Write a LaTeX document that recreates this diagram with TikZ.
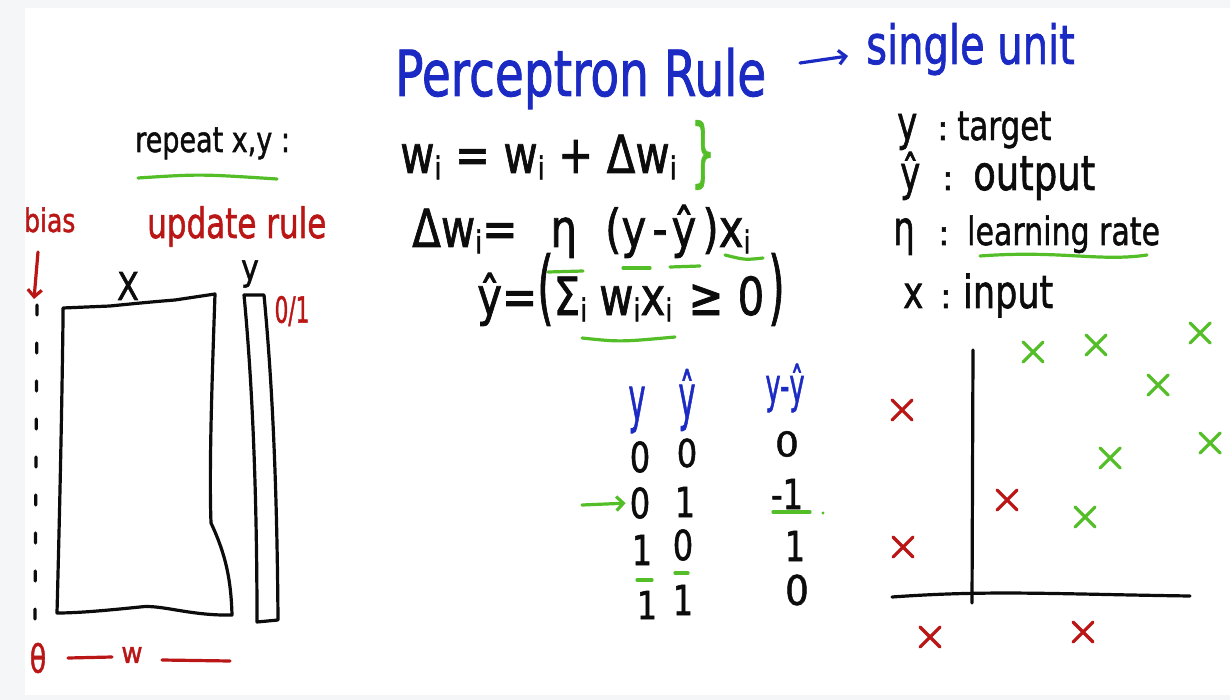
\documentclass[tikz,border=0pt]{standalone}
\usepackage{fontspec}
\setmainfont{DejaVu Sans}[FakeBold=1.5]
\usetikzlibrary{arrows.meta,shapes.misc}
\definecolor{inkblue}{RGB}{28,42,196}
\definecolor{inkred}{RGB}{186,22,22}
\definecolor{inkgreen}{RGB}{84,190,40}
\definecolor{inkblack}{RGB}{12,12,12}
\definecolor{framegray}{RGB}{244,246,248}
\newcommand{\hw}[3]{\scalebox{#1}[#2]{#3}}
\newcommand{\lo}[1]{\raisebox{-0.22ex}{\scalebox{0.6}{#1}}}
\begin{document}
\begin{tikzpicture}[x=1pt,y=-1pt]
\tikzset{
  ink/.style={line width=3.2pt, line cap=round, line join=round, draw=inkblack},
  txt/.style={inner sep=0pt, anchor=base west, text=inkblack},
  ctr/.style={inner sep=0pt, text=inkblack},
  fs/.style={font=\fontsize{#1}{#1}\selectfont},
  xmark/.style={cross out, draw, minimum size=17pt, inner sep=0pt, line width=3.2pt, line cap=round},
  redx/.style={xmark, draw=inkred},
  greenx/.style={xmark, draw=inkgreen},
  barb/.style={-{Straight Barb[length=7pt,width=14pt]}}
}
\fill[framegray] (0,0) rectangle (1230,700);
\fill[white] (25,8) rectangle (1230,695);
\useasboundingbox (0,0) rectangle (1230,700);

% title
\node[txt, text=inkblue, fs=47] (title) at (395,96) {\hw{1}{1.35}{Perceptron Rule}};
\node[txt, text=inkblue, fs=40] (unit) at (866,64) {\hw{1}{1.35}{single unit}};
\coordinate (ta1) at (800,63);
\coordinate (ta2) at (848,56);
\draw[ink, draw=inkblue, barb] (ta1) -- (ta2);

% left part
\node[txt, fs=27] (repeat) at (135,152) {\hw{1}{1.3}{repeat x,y :}};
\draw[ink, draw=inkgreen] (138,178) .. controls (200,174) .. (277,179);
\node[txt, text=inkred, fs=25] (bias) at (24,232) {\hw{1}{1.3}{bias}};
\node[txt, text=inkred, fs=31] (update) at (147,238) {\hw{1}{1.35}{update rule}};
\coordinate (ba1) at (38,252);
\coordinate (ba2) at (34,299);
\draw[ink, draw=inkred, barb] (ba1) -- (ba2);
\draw[ink, dash pattern=on 10pt off 28pt] (37,305) -- (35,625);

% data matrix X
\draw[ink] (63,308) -- (110,306) .. controls (130,304) and (150,302) .. (175,300) -- (215,294)
  .. controls (212,380) and (209,470) .. (211,523) .. controls (226,555) and (231,580) .. (232,615)
  .. controls (190,616) and (160,604) .. (140,607) .. controls (110,610) and (80,613) .. (57,613)
  .. controls (60,500) and (62,400) .. (63,320) -- cycle;
\node[ctr, fs=32] (xlab) at (128,286) {\hw{1}{1.2}{X}};
% y column
\draw[ink] (244,295) -- (264,295) .. controls (272,380) and (277,480) .. (278,620) -- (257,622)
  .. controls (257,520) and (254,400) .. (244,295) -- cycle;
\node[ctr, fs=30] (ylab) at (250,274) {\hw{1}{1.2}{y}};
\node[ctr, text=inkred, fs=24] (bin) at (292,311) {\hw{0.9}{1.5}{0/1}};

% bottom labels
\node[ctr, text=inkred, fs=30] (theta) at (38,658) {\hw{0.9}{1.3}{θ}};
\node[ctr, text=inkred, fs=26] (wlab) at (132,655) {\hw{1}{1.1}{w}};
\coordinate (wd1) at (68,658);
\coordinate (wd2) at (112,657);
\coordinate (wd3) at (162,660);
\coordinate (wd4) at (230,661);
\draw[ink, draw=inkred] (wd1) -- (wd2);
\draw[ink, draw=inkred] (wd3) -- (wd4);

% equations
\node[txt, fs=42] (eq1) at (400,173) {\hw{1}{1.25}{w\lo{i} = w\lo{i} + Δw\lo{i}}};
\node[ctr, text=inkgreen, fs=50] (brace) at (703,155) {\hw{0.75}{1.5}{\}}};
\node[txt, fs=42] (eq2) at (412,247) {\hw{1}{1.25}{Δw\lo{i}=\hspace{33pt}η\hspace{28pt}(y\hspace{6pt}-\hspace{4pt}ŷ\hspace{6pt})x\lo{i}}};
\draw[ink, draw=inkgreen] (548,272) -- (583,271);
\draw[ink, draw=inkgreen] (623,268) -- (650,268);
\draw[ink, draw=inkgreen] (670,267) -- (700,266);
\draw[ink, draw=inkgreen] (725,255) .. controls (745,260) .. (763,258);
\node[txt, fs=42] (eq3) at (477,315) {\hw{1}{1.25}{ŷ=\hw{1}{1.55}{(}Σ\lo{i}\hspace{12pt}w\lo{i}x\lo{i}\hspace{16pt}≥\hspace{14pt}0\hspace{4pt}\hw{1}{1.55}{)}}};
\draw[ink, draw=inkgreen] (582,338) .. controls (620,342) .. (675,337);

% table
\node[ctr, text=inkblue, fs=36] (hy) at (637,410) {\hw{0.8}{1.7}{y}};
\node[ctr, text=inkblue, fs=36] (hyh) at (687,400) {\hw{0.8}{1.7}{ŷ}};
\node[ctr, text=inkblue, fs=32] (hd) at (785,388) {\hw{0.8}{1.5}{y-ŷ}};
\node[ctr, fs=32] (r1c1) at (640,457) {\hw{1}{1.3}{0}};
\node[ctr, fs=32] (r1c2) at (687,453) {\hw{1}{1.2}{0}};
\node[ctr, fs=34] (r1c3) at (787,444) {\hw{1.1}{1}{0}};
\node[ctr, fs=32] (r2c1) at (640,503) {\hw{1}{1.3}{0}};
\node[ctr, fs=32] (r2c2) at (685,502) {\hw{1}{1.3}{1}};
\node[ctr, fs=32] (r2c3) at (787,494) {\hw{1}{1.3}{-1}};
\node[ctr, fs=32] (r3c1) at (642,550) {\hw{1}{1.3}{1}};
\node[ctr, fs=32] (r3c2) at (683,545) {\hw{1}{1.3}{0}};
\node[ctr, fs=32] (r3c3) at (795,546) {\hw{1}{1.3}{1}};
\node[ctr, fs=32] (r4c1) at (647,605) {\hw{1}{1.2}{1}};
\node[ctr, fs=32] (r4c2) at (683,600) {\hw{1}{1.3}{1}};
\node[ctr, fs=34] (r4c3) at (797,590) {\hw{1.1}{1.2}{0}};
\coordinate (ga1) at (582,505);
\draw[ink, draw=inkgreen, barb, shorten >=4pt] (ga1) -- (r2c1.west);
\draw[ink, draw=inkgreen] (773,512) -- (810,512);
\fill[inkgreen] (823,513) circle (1.6pt);
\draw[ink, draw=inkgreen] (637,580) -- (652,580);
\draw[ink, draw=inkgreen] (675,573) -- (688,573);

% legend
\node[txt, fs=34] (ly1) at (897,140) {\hw{1}{1.4}{y}};
\node[txt, fs=34] (lc1) at (937,140) {:};
\node[txt, fs=31] (lt1) at (957,140) {\hw{1}{1.3}{target}};
\node[txt, fs=34] (ly2) at (900,190) {\hw{1}{1.4}{ŷ}};
\node[txt, fs=34] (lc2) at (942,190) {:};
\node[txt, fs=37] (lt2) at (973,190) {\hw{1}{1.3}{output}};
\node[txt, fs=34] (ly3) at (893,245) {\hw{1}{1.4}{η}};
\node[txt, fs=34] (lc3) at (938,245) {:};
\node[txt, fs=30] (lt3) at (967,245) {\hw{1}{1.3}{learning rate}};
\draw[ink, draw=inkgreen] (980,256) .. controls (1060,250) and (1100,262) .. (1147,255);
\node[txt, fs=34] (ly4) at (903,308) {\hw{1}{1.3}{x}};
\node[txt, fs=34] (lc4) at (940,308) {:};
\node[txt, fs=35] (lt4) at (963,308) {\hw{1}{1.3}{input}};

% plot
\coordinate (vt) at (973,350);
\coordinate (vb) at (972,603);
\coordinate (hl) at (892,597);
\coordinate (hr) at (1190,596);
\draw[ink] (vt) -- (vb);
\draw[ink] (hl) .. controls (990,590) and (1050,594) .. (hr);
\node[redx] (p1) at (902,410) {};
\node[redx] (p2) at (1007,500) {};
\node[redx] (p3) at (903,547) {};
\node[redx] (p4) at (930,637) {};
\node[redx] (p5) at (1083,632) {};
\node[greenx] (q1) at (1033,352) {};
\node[greenx] (q2) at (1096,345) {};
\node[greenx] (q3) at (1200,333) {};
\node[greenx] (q4) at (1158,385) {};
\node[greenx] (q5) at (1210,443) {};
\node[greenx] (q6) at (1110,458) {};
\node[greenx] (q7) at (1085,517) {};
\end{tikzpicture}
\end{document}
